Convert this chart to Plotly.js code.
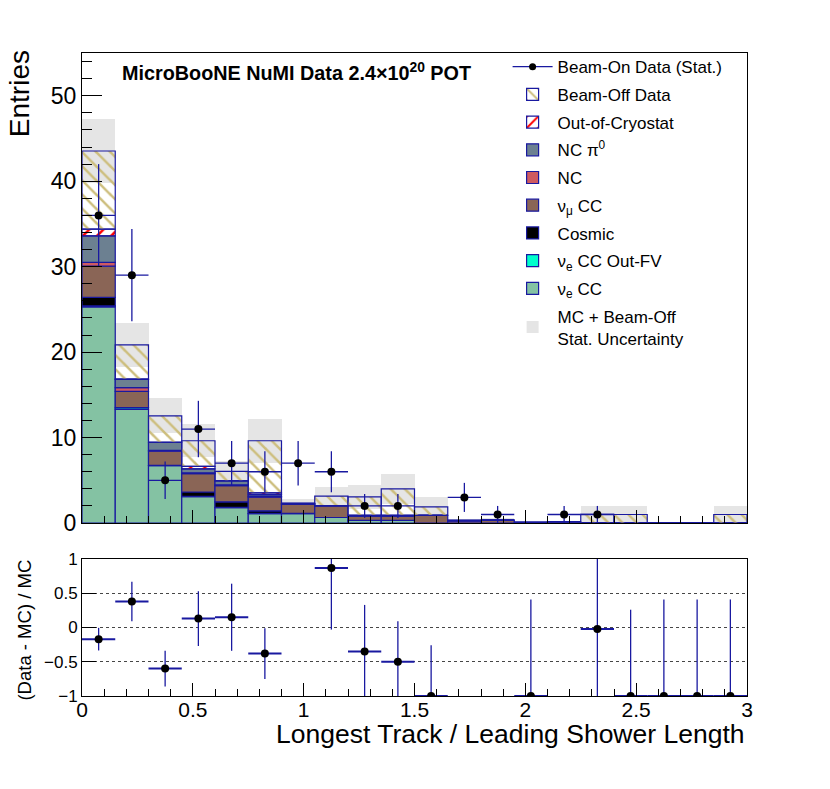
<!DOCTYPE html>
<html><head><meta charset="utf-8">
<script src="https://cdn.plot.ly/plotly-3.0.1.min.js"></script>
<style>html,body{margin:0;padding:0;background:#fff}#plot{width:830px;height:789px}</style>
</head><body><div id="plot"></div>
<script>
// ---- data ----
const binCenters = [0.075,0.225,0.375,0.525,0.675,0.825,0.975,1.125,1.275,1.425,1.575,1.725,1.875,2.025,2.175,2.325,2.475,2.625,2.775,2.925];
const binWidth = 0.15;

const nueCC      = [25.3,13.3,6.7,3.1,1.8,1.1,1.1,0.65,0.3,0.3,0,0,0,0.03,0,0,0,0,0,0];
const nueOutFV   = [0.1,0.2,0.05,0.03,0.03,0.03,0.02,0,0,0,0,0,0,0,0,0,0,0,0,0];
const cosmic     = [1.0,0,0,0.5,0.65,0.3,0,0,0,0,0,0,0,0,0,0,0,0,0,0];
const numuCC     = [3.66,1.9,1.65,2.15,1.9,1.6,1.1,1.35,0.5,0.5,0.9,0.25,0.35,0.05,0.15,0.02,0,0.03,0.03,0];
const ncOther    = [0.44,0.45,0.1,0.1,0.1,0.1,0.03,0,0,0,0,0,0,0,0,0,0,0,0,0];
const ncPi0      = [3.1,0.95,0.95,0.45,0.45,0.2,0.05,0.05,0.1,0.1,0,0.05,0,0,0,0,0,0,0,0];
const outCryo    = [0.78,0.05,0,0.3,0.02,0.2,0,0,0,0,0,0,0,0,0,0,0,0,0,0];
const beamOff    = [9.15,4.0,3.1,3.0,1.1,6.1,0,1.1,2.15,3.1,1.0,0,0,0,0,1.0,1.0,0,0,1.0];
const statUnc    = [3.7,2.55,2.05,1.95,1.2,2.6,0.47,1.1,1.4,1.75,1.1,0.2,0.2,0.05,0.1,0.95,1.05,0.05,0.05,0.95];

const beamOn     = [36,29,5,11,7,6,7,6,2,2,0,3,1,0,1,1,0,0,0,0];
const beamOnErr  = [6,5.4,2.2,3.3,2.6,2.4,2.6,2.4,1.4,1.4,0,1.7,1,0,1,1,0,0,0,0];

const ratioVals  = [-0.17,0.38,-0.60,0.13,0.15,-0.38,null,0.87,-0.35,-0.50,-1,null,null,-1,null,-0.02,-1,-1,-1,-1];
const ratioErrUp = [0.165,0.29,0.26,0.40,0.49,0.37,0,0.9,0.68,0.59,0.74,0,0,1.41,0,1.05,1.26,1.41,1.41,1.41];
const ratioErrDn = [0.165,0.29,0.26,0.40,0.49,0.37,0,0.9,0.68,0.59,0,0,0,0,0,1.05,0,0,0,0];

const xTickVals = [0,0.5,1,1.5,2,2.5,3];
const xTickText = ['0','0.5','1','1.5','2','2.5','3'];

// ---- styling ----
const NAVY = 'rgb(25,25,160)';
const FONT = 'Liberation Sans, Arial, Helvetica, sans-serif';

const layers = [
  {name:'ν<sub>e</sub> CC', vals:nueCC, color:'rgb(132,194,163)', rank:9},
  {name:'ν<sub>e</sub> CC Out-FV', vals:nueOutFV, color:'rgb(0,255,204)', rank:8},
  {name:'Cosmic', vals:cosmic, color:'rgb(0,0,0)', rank:7},
  {name:'ν<sub>μ</sub> CC', vals:numuCC, color:'rgb(138,101,86)', rank:6},
  {name:'NC', vals:ncOther, color:'rgb(207,91,96)', rank:5},
  {name:'NC π<sup>0</sup>', vals:ncPi0, color:'rgb(108,128,145)', rank:4},
  {name:'Out-of-Cryostat', vals:outCryo, color:'rgb(255,0,0)', rank:3, pattern:'/'},
  {name:'Beam-Off Data', vals:beamOff, color:'rgb(205,190,125)', rank:2, pattern:'\\'}
];

const traces = [];

// totals
const total = binCenters.map((_, i) => layers.reduce((s, L) => s + L.vals[i], 0));

// stat uncertainty band (drawn first, underneath)
traces.push({
  type:'bar', x:binCenters, y:statUnc.map(u => 2*u), base:total.map((t,i) => t - statUnc[i]),
  width:binWidth, marker:{color:'rgb(229,229,229)', line:{width:0}},
  name:'MC + Beam-Off<br>Stat. Uncertainty', legendrank:10, legendgroup:'g10',
  xaxis:'x', yaxis:'y', hoverinfo:'skip'
});

let cum = binCenters.map(() => 0);
layers.forEach(L => {
  const marker = {color:L.color, line:{color:NAVY, width:1.2}};
  if (L.pattern) {
    marker.pattern = {shape:L.pattern, fgcolor:L.color, size:10, solidity:0.25, fillmode:'replace'};
  }
  traces.push({
    type:'bar', x:binCenters, y:L.vals.slice(), base:cum.slice(), width:binWidth,
    marker:marker, name:L.name, legendrank:L.rank, legendgroup:'g'+L.rank,
    xaxis:'x', yaxis:'y'
  });
  cum = cum.map((c,i) => c + L.vals[i]);
});

// data points (top)
const dX = [], dY = [], dE = [];
beamOn.forEach((v,i) => { if (v > 0) { dX.push(binCenters[i]); dY.push(v); dE.push(beamOnErr[i]); } });
traces.push({
  type:'scatter', mode:'markers', x:dX, y:dY,
  error_y:{type:'data', array:dE, color:NAVY, thickness:1.3, width:0},
  error_x:{type:'data', array:dX.map(() => binWidth/2), color:NAVY, thickness:1.3, width:0},
  marker:{color:'black', size:8}, showlegend:false, xaxis:'x', yaxis:'y'
});
// legend entry for data
traces.push({
  type:'scatter', mode:'lines+markers', x:[null], y:[null],
  line:{color:NAVY, width:1.3}, marker:{color:'black', size:7},
  name:'Beam-On Data (Stat.)', legendrank:1, legendgroup:'g1', xaxis:'x', yaxis:'y'
});

// ratio points
const rX = [], rY = [], rU = [], rD = [];
ratioVals.forEach((v,i) => { if (v !== null) { rX.push(binCenters[i]); rY.push(v); rU.push(ratioErrUp[i]); rD.push(ratioErrDn[i]); } });
traces.push({
  type:'scatter', mode:'markers', x:rX, y:rY,
  error_y:{type:'data', symmetric:false, array:rU, arrayminus:rD, color:NAVY, thickness:1.3, width:0},
  error_x:{type:'data', array:rX.map(() => binWidth/2), color:NAVY, thickness:2, width:0},
  marker:{color:'black', size:8}, showlegend:false, xaxis:'x2', yaxis:'y2', cliponaxis:true
});

const axisCommon = {
  showline:true, mirror:true, linecolor:'black', linewidth:1,
  ticks:'inside', tickcolor:'black', zeroline:false, showgrid:false,
  tickfont:{family:FONT, size:21, color:'black'}
};

const layout = {
  width:830, height:789,
  margin:{l:82, r:83, t:53, b:93},
  paper_bgcolor:'white', plot_bgcolor:'white',
  barmode:'overlay', bargap:0,
  font:{family:FONT, color:'black'},
  showlegend:true,
  legend:{
    x:0.64, y:1.006, xanchor:'left', yanchor:'top',
    bgcolor:'rgba(0,0,0,0)', borderwidth:0,
    font:{family:FONT, size:17, color:'black'},
    traceorder:'grouped', tracegroupgap:2.6, itemwidth:40
  },
  xaxis:Object.assign({}, axisCommon, {
    domain:[0,1], range:[0,3], anchor:'y', showticklabels:false,
    tickvals:xTickVals, ticklen:13,
    minor:{dtick:0.1, ticklen:7, ticks:'inside', tickcolor:'black'}
  }),
  yaxis:Object.assign({}, axisCommon, {
    domain:[0.269,1], range:[0,55], anchor:'x',
    dtick:10, ticklen:20, tickfont:{family:FONT, size:23, color:'black'},
    minor:{dtick:2, ticklen:10, ticks:'inside', tickcolor:'black'}
  }),
  xaxis2:Object.assign({}, axisCommon, {
    domain:[0,1], range:[0,3], anchor:'y2',
    tickvals:xTickVals, ticktext:xTickText, ticklen:13, ticklabelstandoff:-5,
    minor:{dtick:0.1, ticklen:7, ticks:'inside', tickcolor:'black'}
  }),
  yaxis2:Object.assign({}, axisCommon, {
    domain:[0,0.213], range:[-1,1], anchor:'x2',
    tickvals:[-1,-0.5,0,0.5,1], ticktext:['−1','−0.5','0','0.5','1'], ticklen:14,
    tickfont:{family:FONT, size:17, color:'black'},
    showgrid:true, gridcolor:'rgb(70,70,70)', griddash:'dot', gridwidth:1.2
  }),
  annotations:[
    {text:'<b>MicroBooNE NuMI Data 2.4×10<sup>20</sup> POT</b>', xref:'paper', yref:'paper',
     x:0.057, y:0.972, xanchor:'left', yanchor:'middle', showarrow:false,
     font:{family:FONT, size:19.8, color:'black'}},
    {text:'Entries', xref:'paper', yref:'paper', x:-0.093, y:1.007, xanchor:'center', yanchor:'top',
     textangle:-90, showarrow:false, font:{family:FONT, size:28, color:'black'}},
    {text:'(Data - MC) / MC', xref:'paper', yref:'paper', x:-0.087, y:0.102, xanchor:'center', yanchor:'middle',
     textangle:-90, showarrow:false, font:{family:FONT, size:18.5, color:'black'}},
    {text:'Longest Track / Leading Shower Length', xref:'paper', yref:'paper', x:1, y:-0.059,
     xanchor:'right', yanchor:'middle', showarrow:false, font:{family:FONT, size:26.5, color:'black'}}
  ]
};

Plotly.newPlot('plot', traces, layout, {displayModeBar:false, staticPlot:true});
</script></body></html>
